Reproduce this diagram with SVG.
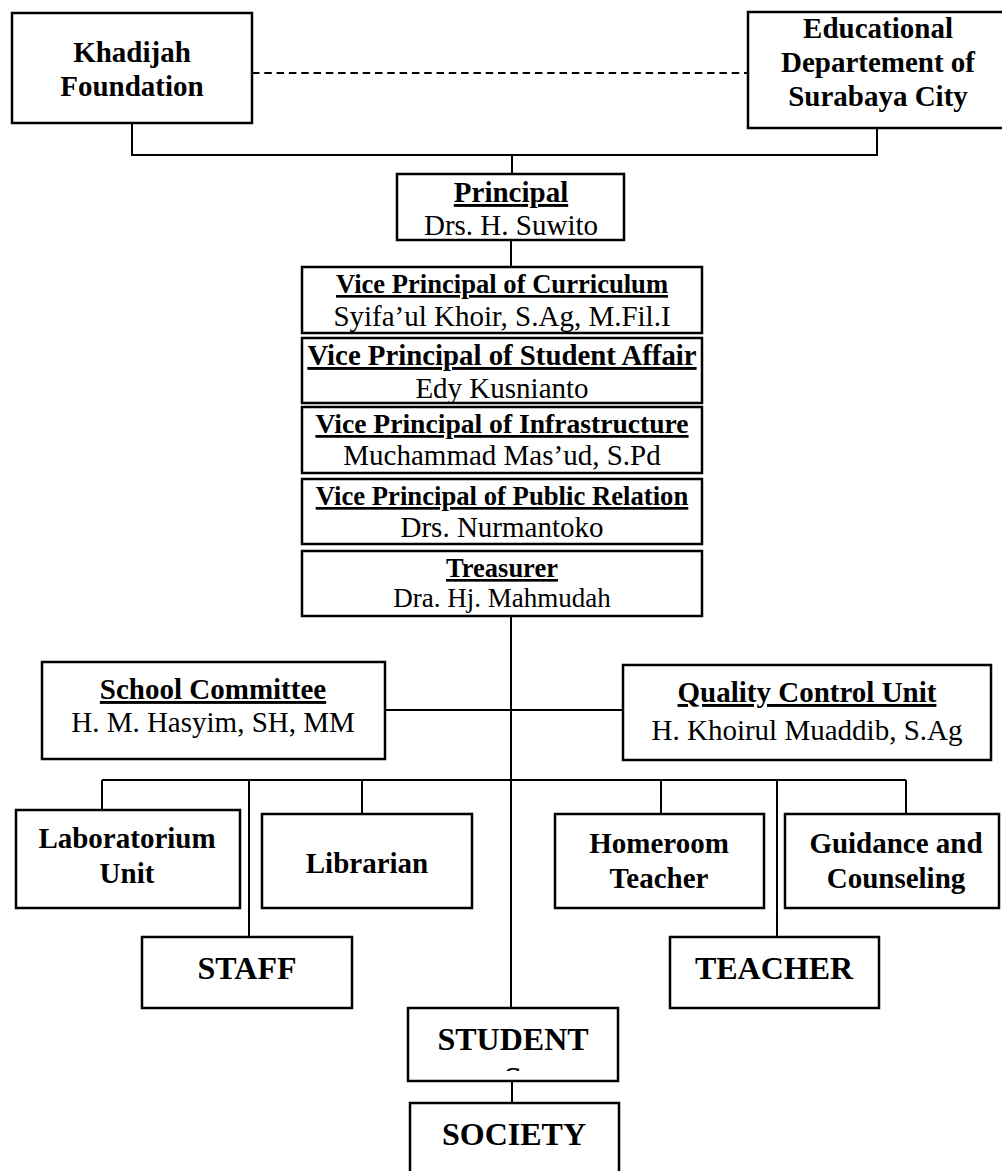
<svg xmlns="http://www.w3.org/2000/svg" width="1002" height="1171" viewBox="0 0 1002 1171">
<style>
.box{fill:#fff;stroke:#000;stroke-width:2.5}
.ln{fill:none;stroke:#000;stroke-width:2}
.dash{fill:none;stroke:#000;stroke-width:1.8;stroke-dasharray:7.5 4.8}
text{font-family:"Liberation Serif","Times New Roman",serif;fill:#000;text-anchor:middle}
.b{font-weight:bold}
.u{text-decoration:underline}
.r29{font-size:29px}
.b29{font-size:29px;font-weight:bold}
.b32{font-size:32px;font-weight:bold}
</style>
<defs>
<clipPath id="studClip"><rect x="408" y="1008" width="210" height="63"/></clipPath>
</defs>
<g id="connectors">
<line class="dash" x1="252" y1="73" x2="748" y2="73"/>
<polyline class="ln" points="132,123 132,155 877,155 877,128"/>
<line class="ln" x1="512" y1="155" x2="512" y2="174"/>
<line class="ln" x1="511" y1="240" x2="511" y2="267"/>
<line class="ln" x1="511" y1="616" x2="511" y2="1008"/>
<line class="ln" x1="385" y1="710" x2="623" y2="710"/>
<line class="ln" x1="102" y1="780" x2="906" y2="780"/>
<line class="ln" x1="102" y1="780" x2="102" y2="810"/>
<line class="ln" x1="362" y1="780" x2="362" y2="814"/>
<line class="ln" x1="661" y1="780" x2="661" y2="814"/>
<line class="ln" x1="906" y1="780" x2="906" y2="814"/>
<line class="ln" x1="249" y1="780" x2="249" y2="937"/>
<line class="ln" x1="777" y1="780" x2="777" y2="937"/>
<line class="ln" x1="512" y1="1081" x2="512" y2="1103"/>
</g>
<g id="khadijah">
<rect class="box" x="12" y="13" width="240" height="110"/>
<text class="b29" x="132" y="62">Khadijah</text>
<text class="b29" x="132" y="96">Foundation</text>
</g>
<g id="educational">
<rect class="box" x="748" y="12" width="262" height="116"/>
<text class="b29" x="878" y="38">Educational</text>
<text class="b29" x="878" y="72">Departement of</text>
<text class="b29" x="878" y="106">Surabaya City</text>
</g>
<g id="principal">
<rect class="box" x="397" y="174" width="227" height="66"/>
<text class="b29 u" x="511" y="202">Principal</text>
<text class="r29" x="511" y="235">Drs. H. Suwito</text>
</g>
<g id="vp-curriculum">
<rect class="box" x="302" y="267" width="400" height="66"/>
<text class="b u" style="font-size:26.6px" x="502" y="293">Vice Principal of Curriculum</text>
<text class="r29" x="502" y="326">Syifa’ul Khoir, S.Ag, M.Fil.I</text>
</g>
<g id="vp-student">
<rect class="box" x="302" y="338" width="400" height="65"/>
<text class="b u" style="font-size:28.8px" x="502" y="365">Vice Principal of Student Affair</text>
<text class="r29" x="502" y="398">Edy Kusnianto</text>
</g>
<g id="vp-infrastructure">
<rect class="box" x="302" y="407" width="400" height="66"/>
<text class="b u" style="font-size:27.6px" x="502" y="433">Vice Principal of Infrastructure</text>
<text class="r29" x="502" y="465">Muchammad Mas’ud, S.Pd</text>
</g>
<g id="vp-public">
<rect class="box" x="302" y="479" width="400" height="65"/>
<text class="b u" style="font-size:26.7px" x="502" y="505">Vice Principal of Public Relation</text>
<text class="r29" x="502" y="537">Drs. Nurmantoko</text>
</g>
<g id="treasurer">
<rect class="box" x="302" y="551" width="400" height="65"/>
<text class="b u" style="font-size:26.5px" x="502" y="577">Treasurer</text>
<text style="font-size:27px" x="502" y="607">Dra. Hj. Mahmudah</text>
</g>
<g id="school-committee">
<rect class="box" x="42" y="662" width="343" height="97"/>
<text class="b29 u" x="213" y="699">School Committee</text>
<text class="r29" x="213" y="732">H. M. Hasyim, SH, MM</text>
</g>
<g id="quality-control">
<rect class="box" x="623" y="665" width="368" height="95"/>
<text class="b29 u" x="807" y="702">Quality Control Unit</text>
<text class="r29" x="807" y="740">H. Khoirul Muaddib, S.Ag</text>
</g>
<g id="laboratorium">
<rect class="box" x="16" y="810" width="224" height="98"/>
<text class="b29" x="127" y="848">Laboratorium</text>
<text class="b29" x="127" y="883">Unit</text>
</g>
<g id="librarian">
<rect class="box" x="262" y="814" width="210" height="94"/>
<text class="b29" x="367" y="873">Librarian</text>
</g>
<g id="homeroom">
<rect class="box" x="555" y="814" width="209" height="94"/>
<text class="b29" x="659" y="853">Homeroom</text>
<text class="b29" x="659" y="888">Teacher</text>
</g>
<g id="guidance">
<rect class="box" x="785" y="814" width="214" height="94"/>
<text class="b29" x="896" y="853">Guidance and</text>
<text class="b29" x="896" y="888">Counseling</text>
</g>
<g id="staff">
<rect class="box" x="142" y="937" width="210" height="71"/>
<text class="b32" x="247" y="979">STAFF</text>
</g>
<g id="teacher">
<rect class="box" x="670" y="937" width="209" height="71"/>
<text class="b32" x="774" y="979">TEACHER</text>
</g>
<g id="students">
<rect class="box" x="408" y="1008" width="210" height="73"/>
<g clip-path="url(#studClip)">
<text class="b32" x="513" y="1050">STUDENT</text>
<text class="b32" x="513" y="1089">S</text>
</g>
</g>
<g id="society">
<rect class="box" x="410" y="1103" width="209" height="80"/>
<text class="b32" x="514" y="1145">SOCIETY</text>
</g>
</svg>
